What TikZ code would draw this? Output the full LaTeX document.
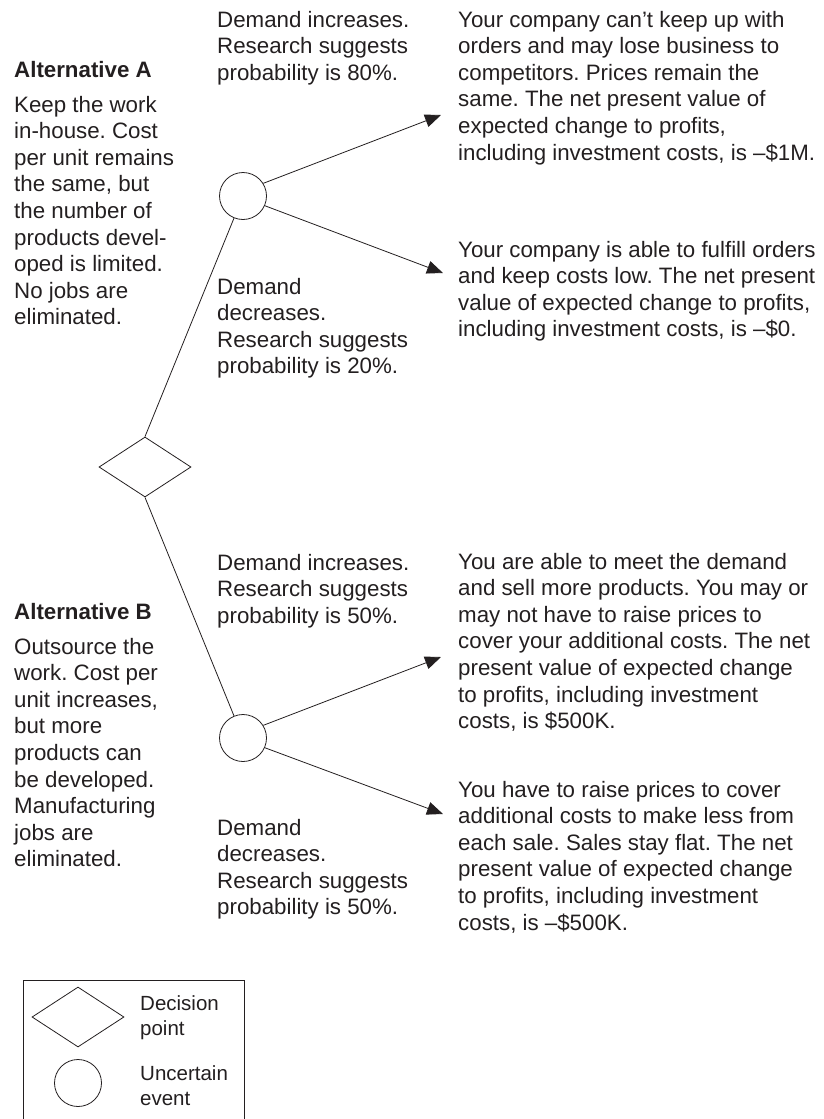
\documentclass[tikz,border=0pt]{standalone}
\usepackage{fontspec}
\setmainfont{Liberation Sans}
\usetikzlibrary{shapes.geometric,arrows.meta}
\definecolor{ink}{RGB}{35,31,32}
\newcommand\txtblk[1]{\begin{tabular}[t]{@{}l@{}}#1\end{tabular}}
\frenchspacing
\begin{document}
\begin{tikzpicture}[x=1pt,y=-1pt,
  every node/.style={text=ink},
  txt/.style={anchor=base west, inner sep=0pt, font=\fontsize{22.3}{26.6}\selectfont\frenchspacing},
  legtxt/.style={anchor=base west, inner sep=0pt, font=\fontsize{20.5}{25}\selectfont},
  decision/.style={draw=ink, diamond, inner sep=0pt, minimum width=92pt, minimum height=60pt, line width=0.8pt},
  event/.style={draw=ink, circle, inner sep=0pt, minimum size=47pt, line width=0.8pt},
  link/.style={draw=ink, line width=0.8pt},
  arr/.style={link, -{Triangle[length=16pt,width=13pt]}}]
\useasboundingbox (0,0) rectangle (824,1119);

% decision tree nodes
\node[decision] (d) at (145,467) {};
\node[event] (cA) at (243,196) {};
\node[event] (cB) at (243,738) {};
\coordinate (tA1) at (441,115);
\coordinate (tA2) at (443,273);
\coordinate (tB1) at (441,657);
\coordinate (tB2) at (443,814);

\draw[link] (d.north) -- (cA);
\draw[link] (d.south) -- (cB);
\draw[arr] (cA.32) -- (tA1);
\draw[arr] (cA.-24) -- (tA2);
\draw[arr] (cB.32) -- (tB1);
\draw[arr] (cB.-24) -- (tB2);

% Alternative A texts
\node[txt] (altA) at (14,77) {\textbf{Alternative A}};
\node[txt] (altAb) at (14,112) {\txtblk{Keep the work\\in-house. Cost\\per unit remains\\the same, but\\the number of\\products devel-\\oped is limited.\\No jobs are\\eliminated.}};
\node[txt] (pA1) at (217,27) {\txtblk{Demand increases.\\Research suggests\\probability is 80\%.}};
\node[txt] (pA2) at (217,294) {\txtblk{Demand\\decreases.\\Research suggests\\probability is 20\%.}};
\node[txt] (oA1) at (458,27) {\txtblk{Your company can’t keep up with\\orders and may lose business to\\competitors. Prices remain the\\same. The net present value of\\expected change to profits,\\including investment costs, is –\$1M.}};
\node[txt] (oA2) at (458,257) {\txtblk{Your company is able to fulfill orders\\and keep costs low. The net present\\value of expected change to profits,\\including investment costs, is –\$0.}};

% Alternative B texts
\node[txt] (altB) at (14,619) {\textbf{Alternative B}};
\node[txt] (altBb) at (14,654) {\txtblk{Outsource the\\work. Cost per\\unit increases,\\but more\\products can\\be developed.\\Manufacturing\\jobs are\\eliminated.}};
\node[txt] (pB1) at (217,570) {\txtblk{Demand increases.\\Research suggests\\probability is 50\%.}};
\node[txt] (pB2) at (217,835) {\txtblk{Demand\\decreases.\\Research suggests\\probability is 50\%.}};
\node[txt] (oB1) at (458,569) {\txtblk{You are able to meet the demand\\and sell more products. You may or\\may not have to raise prices to\\cover your additional costs. The net\\present value of expected change\\to profits, including investment\\costs, is \$500K.}};
\node[txt] (oB2) at (458,797) {\txtblk{You have to raise prices to cover\\additional costs to make less from\\each sale. Sales stay flat. The net\\present value of expected change\\to profits, including investment\\costs, is –\$500K.}};

% legend
\draw[link] (23,1119) -- (23,980) -- (244,980) -- (244,1119);
\node[decision] (ld) at (78,1017) {};
\node[event] (le) at (78,1083) {};
\node[legtxt] (ldt) at (140,1010) {\txtblk{Decision\\point}};
\node[legtxt] (let) at (140,1080) {\txtblk{Uncertain\\event}};
\end{tikzpicture}
\end{document}
